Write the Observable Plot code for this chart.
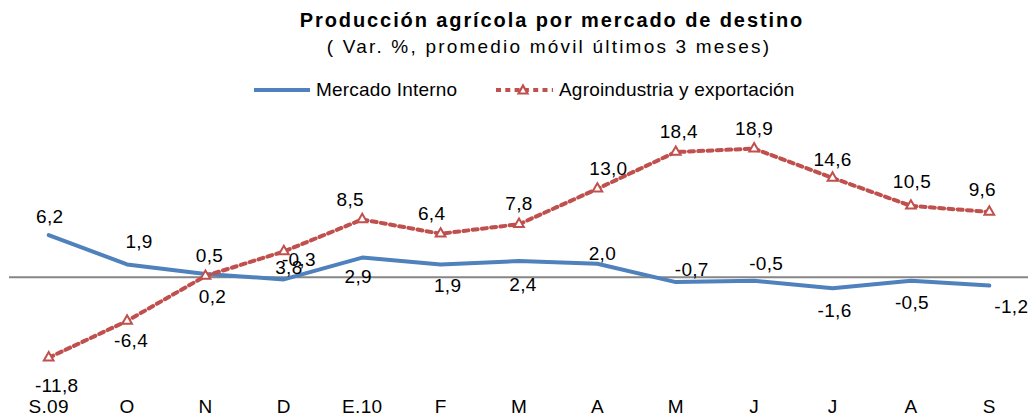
<!DOCTYPE html>
<html><head><meta charset="utf-8">
<script src="https://cdn.jsdelivr.net/npm/d3@7"></script>
<script src="https://cdn.jsdelivr.net/npm/@observablehq/plot@0.6"></script>
<style>
body{margin:0;background:#fff;font-family:"Liberation Sans",Arial,sans-serif;}
#wrap{position:relative;width:1031px;height:417px;overflow:hidden;background:#fff}
.t{position:absolute;white-space:nowrap;line-height:1;color:#000}
#chart{position:absolute;left:0;top:100px}
.sw{position:absolute}
</style></head><body>
<div id="wrap">
  <div class="t" style="left:252px;width:600px;text-align:center;top:10px;font-size:20px;font-weight:bold;letter-spacing:1.9px">Producción agrícola por mercado de destino</div>
  <div class="t" style="left:249px;width:600px;text-align:center;top:37px;font-size:19px;letter-spacing:2.2px">( Var. %, promedio móvil últimos 3 meses)</div>
  <svg class="sw" style="left:254px;top:83px" width="56" height="14"><line x1="0" x2="56" y1="7" y2="7" stroke="#4F81BD" stroke-width="4"/></svg>
  <div class="t" style="left:316px;top:80px;font-size:19px;letter-spacing:0.2px">Mercado Interno</div>
  <svg class="sw" style="left:496px;top:83px" width="57" height="14"><line x1="0" x2="57" y1="7" y2="7" stroke="#C0504D" stroke-width="4" stroke-dasharray="5 4.3"/><path d="M27,2.5L31.5,10.5L22.5,10.5Z" fill="#fff" stroke="#C0504D" stroke-width="2.2"/></svg>
  <div class="t" style="left:559px;top:80px;font-size:19px;letter-spacing:0.2px">Agroindustria y exportación</div>
  <div id="chart"></div>
</div>
<script>
const months = ["S.09","O","N","D","E.10","F","M","A","M","J","J","A","S"];
const mercadoInterno = [6.2, 1.9, 0.5, -0.3, 2.9, 1.9, 2.4, 2.0, -0.7, -0.5, -1.6, -0.5, -1.2];
const agroindustria = [-11.8, -6.4, 0.2, 3.8, 8.5, 6.4, 7.8, 13.0, 18.4, 18.9, 14.6, 10.5, 9.6];

// label nudges (px) mimicking the original label placement
const blueLabelOffset = [[1,-18],[12,-22],[4,-18],[15,-19],[-4,19],[7,22],[4,24],[5,-10],[16,-12],[12,-17],[2,23],[1,22],[22,21]];
const redLabelOffset = [[8,28],[4,20],[7,21],[5,16],[-12,-20],[-9,-20],[0,-20],[11,-20],[3,-20],[0,-20],[0,-18],[1,-24],[-7,-22]];

const fmt = v => v.toFixed(1).replace(".", ",");
const idx = d3.range(months.length);

function labels(values, offsets) {
  return idx.map(i => Plot.text([i], {
    x: d => d, y: d => values[d], text: d => fmt(values[d]),
    dx: offsets[i][0], dy: offsets[i][1], fill: "#000", fontSize: 19
  }));
}

const chart = Plot.plot({
  width: 1031, height: 317,
  marginLeft: 9, marginRight: 3, marginTop: 27, marginBottom: 38,
  style: {fontFamily: "'Liberation Sans', Arial, sans-serif", fontSize: "19px", background: "#fff", color: "#000", letterSpacing: "0.3px"},
  x: {type: "linear", domain: [-0.5, 12.5], axis: null},
  y: {domain: [-15, 22], axis: null},
  marks: [
    Plot.ruleY([0], {stroke: "#868686", strokeWidth: 2}),
    Plot.line(idx, {x: d => d, y: d => mercadoInterno[d], stroke: "#4F81BD", strokeWidth: 4, strokeLinejoin: "miter"}),
    Plot.line(idx, {x: d => d, y: d => agroindustria[d], stroke: "#C0504D", strokeWidth: 4, strokeDasharray: "5 4.3", strokeLinejoin: "miter"}),
    Plot.dot(idx, {x: d => d, y: d => agroindustria[d], symbol: "triangle", r: 3.6, fill: "#fff", stroke: "#C0504D", strokeWidth: 2}),
    ...labels(mercadoInterno, blueLabelOffset),
    ...labels(agroindustria, redLabelOffset),
    Plot.axisX(idx, {tickFormat: d => months[d], tickSize: 0, tickPadding: 20, fontSize: 19, fill: "#000"})
  ]
});
document.getElementById("chart").appendChild(chart);
</script>
</body></html>
